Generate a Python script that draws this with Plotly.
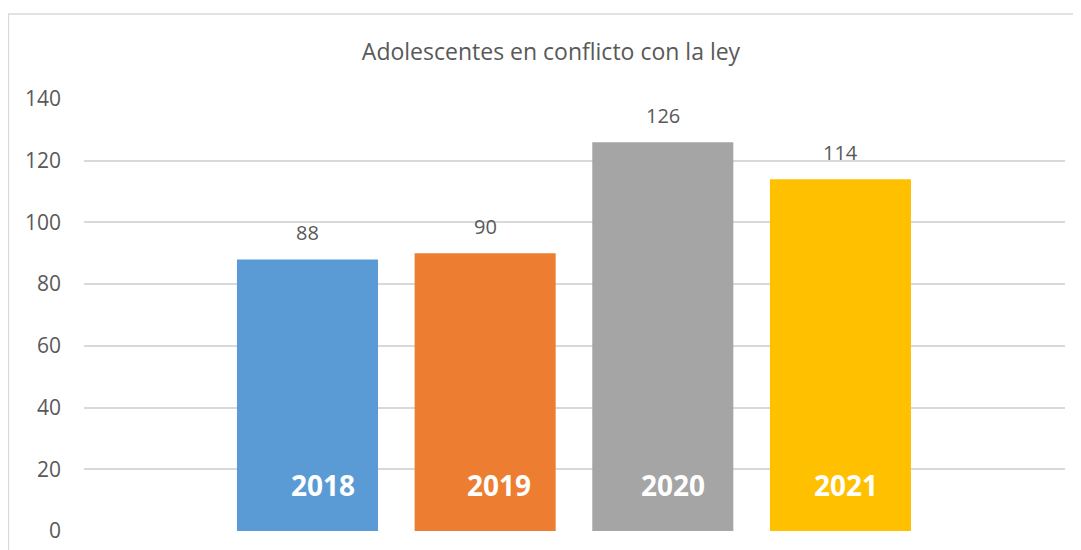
import plotly.graph_objects as go

years = [2018, 2019, 2020, 2021]
values = [88, 90, 126, 114]
colors = ["#5B9BD5", "#ED7D31", "#A5A5A5", "#FFC000"]
title_text = "Adolescentes en conflicto con la ley"
y_ticks = [0, 20, 40, 60, 80, 100, 120, 140]

# style: horizontal nudge (px) of the in-bar year labels, as in the reference
year_label_xshift = [16, 14, 10, 6]

FONT = "Open Sans"
TXT = "#595959"

# page body has an 8px margin: work in figure coords = screen - 8
L, R, T, B = 76, 1057, 91, 523
W, H = 1081, 550

fig = go.Figure()
fig.add_trace(go.Bar(
    x=years, y=values, width=0.794,
    marker=dict(color=colors, line=dict(width=0)),
    hoverinfo="skip",
))

annotations = []
for yr, v, dx in zip(years, values, year_label_xshift):
    annotations.append(dict(x=yr, y=v, xref="x", yref="y", text=str(v),
                            showarrow=False, yanchor="bottom", yshift=11,
                            font=dict(family=FONT, size=20, color=TXT)))
    annotations.append(dict(x=yr, y=0, xref="x", yref="y", text="<b>%d</b>" % yr,
                            showarrow=False, yanchor="middle", yshift=46, xshift=dx,
                            font=dict(family=FONT, size=28, color="white")))

pw, ph = R - L, B - T
fig.update_layout(
    width=W, height=H,
    margin=dict(l=L, r=W - R, t=T, b=H - B),
    paper_bgcolor="white", plot_bgcolor="white",
    showlegend=False,
    title=dict(text=title_text, x=543/W, xanchor="center", y=1-44/H, yanchor="middle",
               font=dict(family=FONT, size=23, color=TXT)),
    xaxis=dict(range=[2016.742, 2022.264], showticklabels=False, showgrid=False,
               zeroline=False, showline=False, ticks=""),
    yaxis=dict(range=[0, 140], tickvals=y_ticks, showgrid=True, gridcolor="#D9D9D9",
               gridwidth=1.5, zeroline=False, showline=False, ticks="", ticklen=0,
               tickfont=dict(family=FONT, size=21, color=TXT), ticklabelstandoff=22),
    annotations=annotations,
    shapes=[dict(type="rect", xref="paper", yref="paper",
                 x0=(0.5 - L)/pw, x1=(W + 20 - L)/pw, y0=(B - (H + 20))/ph, y1=(B - 6)/ph,
                 line=dict(color="#D9D9D9", width=1.3), fillcolor="rgba(0,0,0,0)", layer="below")],
)

fig.write_html("out.html")
